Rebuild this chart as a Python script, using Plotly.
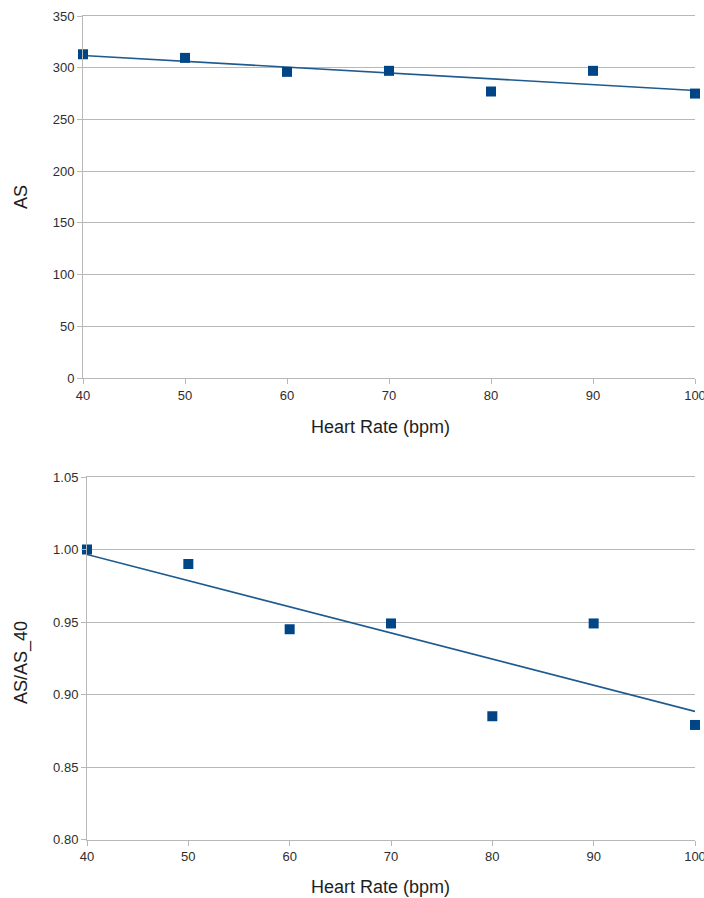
import numpy as np
import plotly.graph_objects as go

# Measured data
heart_rate = [40, 50, 60, 70, 80, 90, 100]
as_values = [313, 309.5, 296, 297, 277, 297, 275]
as_ratio = [1.000, 0.990, 0.945, 0.949, 0.885, 0.949, 0.879]

x_ticks = [40, 50, 60, 70, 80, 90, 100]
as_ticks = [0, 50, 100, 150, 200, 250, 300, 350]
ratio_ticks = [0.80, 0.85, 0.90, 0.95, 1.00, 1.05]

W, H = 704, 898
MARK = "#004586"
LINE = "#1f5a8f"
GRID = "#b8b8b8"
FONT = "Liberation Sans, Arial, sans-serif"


def trend(x, y):
    k, b = np.polyfit(x, y, 1)
    xs = np.array([min(x), max(x)], dtype=float)
    return xs, k * xs + b


fig = go.Figure()

# Top panel: AS vs heart rate
tx, ty = trend(heart_rate, as_values)
fig.add_trace(go.Scatter(x=tx, y=ty, mode="lines", line=dict(color=LINE, width=1.6),
                         xaxis="x", yaxis="y", showlegend=False, hoverinfo="skip"))
fig.add_trace(go.Scatter(x=heart_rate, y=as_values, mode="markers",
                         marker=dict(symbol="square", size=10, color=MARK),
                         xaxis="x", yaxis="y", showlegend=False, cliponaxis=False))

# Bottom panel: normalised AS vs heart rate
bx, by = trend(heart_rate, as_ratio)
fig.add_trace(go.Scatter(x=bx, y=by, mode="lines", line=dict(color=LINE, width=1.6),
                         xaxis="x2", yaxis="y2", showlegend=False, hoverinfo="skip"))
fig.add_trace(go.Scatter(x=heart_rate, y=as_ratio, mode="markers",
                         marker=dict(symbol="square", size=10, color=MARK),
                         xaxis="x2", yaxis="y2", showlegend=False, cliponaxis=False))


def px_x(v):
    return v / W


def px_y(v):
    return 1 - v / H


TICKFONT = dict(family=FONT, size=13, color="#2e2e2e")
TITLEFONT = dict(family=FONT, size=18, color="#1e1e1e")

common_x = dict(range=[40, 100], tickvals=x_ticks, showgrid=False, zeroline=False,
                showline=True, linecolor=GRID, linewidth=1, mirror=True,
                ticks="outside", ticklen=5, tickcolor=GRID, ticklabeloverflow="allow",
                tickfont=TICKFONT, automargin=False)
common_y = dict(showgrid=True, gridcolor=GRID, gridwidth=1, zeroline=False,
                showline=True, linecolor=GRID, linewidth=1,
                ticks="outside", ticklen=5, tickcolor=GRID,
                tickfont=TICKFONT, automargin=False)

fig.update_layout(
    width=W, height=H,
    margin=dict(l=0, r=0, t=0, b=0),
    paper_bgcolor="white", plot_bgcolor="white",
    xaxis=dict(domain=[px_x(83), px_x(695)], anchor="y", **common_x),
    yaxis=dict(domain=[px_y(378), px_y(16)], anchor="x", range=[0, 350],
               tickvals=as_ticks, **common_y),
    xaxis2=dict(domain=[px_x(87), px_x(695)], anchor="y2", **common_x),
    yaxis2=dict(domain=[px_y(839.5), px_y(477)], anchor="x2", range=[0.80, 1.05],
                tickvals=ratio_ticks, tickformat=".2f", **common_y),
    annotations=[
        dict(text="Heart Rate (bpm)", x=px_x(380), y=px_y(427), xref="paper", yref="paper",
             xanchor="center", yanchor="middle", showarrow=False, font=TITLEFONT),
        dict(text="Heart Rate (bpm)", x=px_x(380), y=px_y(887), xref="paper", yref="paper",
             xanchor="center", yanchor="middle", showarrow=False, font=TITLEFONT),
        dict(text="AS", x=px_x(21), y=px_y(197), xref="paper", yref="paper", textangle=-90,
             xanchor="center", yanchor="middle", showarrow=False, font=TITLEFONT),
        dict(text="AS/AS_40", x=px_x(21), y=px_y(663), xref="paper", yref="paper", textangle=-90,
             xanchor="center", yanchor="middle", showarrow=False, font=TITLEFONT),
    ],
)

fig.write_html("out.html")
